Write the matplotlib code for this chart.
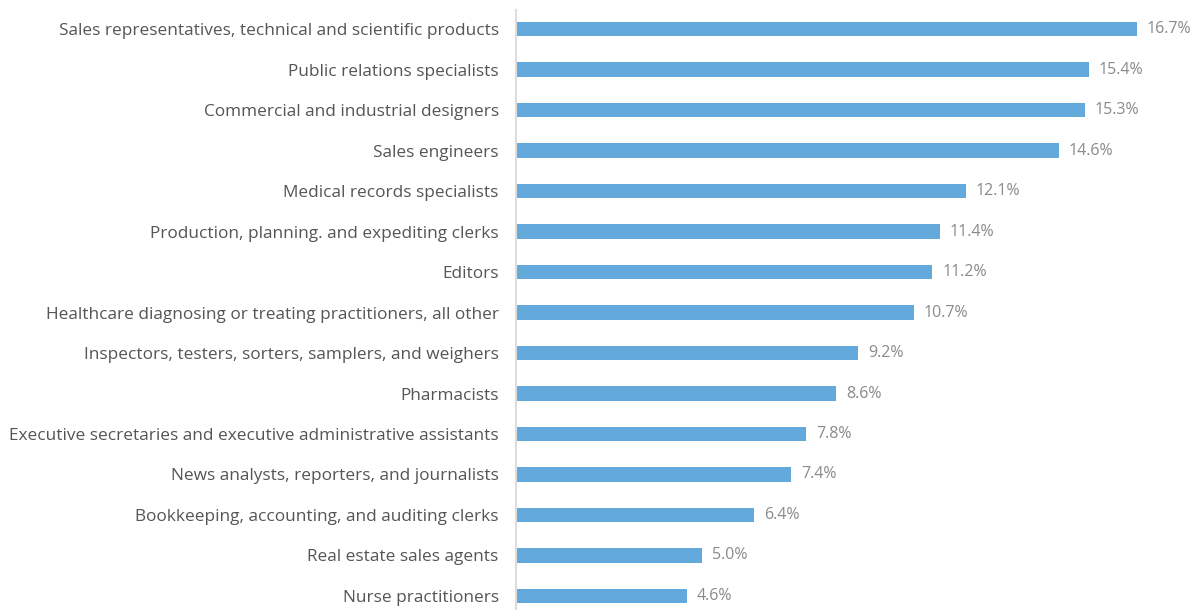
import matplotlib
matplotlib.use("Agg")
import matplotlib.pyplot as plt

categories = [
    "Sales representatives, technical and scientific products",
    "Public relations specialists",
    "Commercial and industrial designers",
    "Sales engineers",
    "Medical records specialists",
    "Production, planning. and expediting clerks",
    "Editors",
    "Healthcare diagnosing or treating practitioners, all other",
    "Inspectors, testers, sorters, samplers, and weighers",
    "Pharmacists",
    "Executive secretaries and executive administrative assistants",
    "News analysts, reporters, and journalists",
    "Bookkeeping, accounting, and auditing clerks",
    "Real estate sales agents",
    "Nurse practitioners",
]
values = [16.7, 15.4, 15.3, 14.6, 12.1, 11.4, 11.2, 10.7, 9.2, 8.6, 7.8, 7.4, 6.4, 5.0, 4.6]

BAR = "#64a9db"
plt.rcParams["font.family"] = ["Open Sans", "DejaVu Sans"]

fig = plt.figure(figsize=(11.99, 6.10), dpi=100)
ax = fig.add_axes([516 / 1199, 0, 1 - 516 / 1199, 1 - 10 / 610])

pos = list(range(len(categories)))
ax.barh(pos, values, height=0.35, color=BAR)
for y, v in zip(pos, values):
    ax.text(v + 0.27, y, f"{v:.1f}%", va="center", ha="left", fontsize=11.5, color="#8a8a8a")

ax.set_yticks(pos)
ax.set_yticklabels(categories, fontsize=12.4, color="#555555")
ax.tick_params(axis="y", length=0, pad=12.5)
ax.set_xticks([])
ax.set_xlim(0, 18.37)
ax.set_ylim(len(categories) - 1 + 0.346, -0.47)
for s in ["top", "right", "bottom"]:
    ax.spines[s].set_visible(False)
ax.spines["left"].set_color("#dddddd")
ax.spines["left"].set_linewidth(1.5)

fig.savefig("out.png", dpi=100)
